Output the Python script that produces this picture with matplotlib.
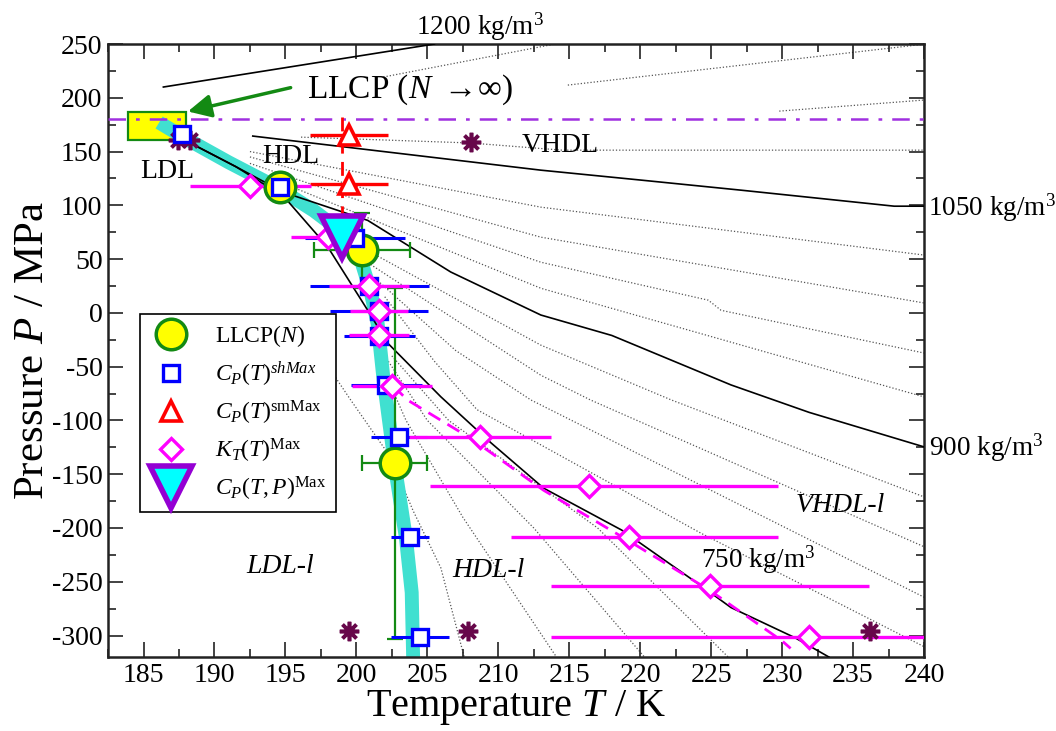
import numpy as np
import matplotlib.pyplot as plt
from matplotlib.patches import Rectangle, FancyArrowPatch
from matplotlib.ticker import MultipleLocator

plt.rcParams['font.family'] = ['Liberation Serif', 'DejaVu Serif']
plt.rcParams['mathtext.fontset'] = 'custom'
plt.rcParams['mathtext.rm'] = 'Liberation Serif'
plt.rcParams['mathtext.it'] = 'Liberation Serif:italic'
plt.rcParams['mathtext.bf'] = 'Liberation Serif:bold'
plt.rcParams['mathtext.fallback'] = 'stix'
plt.rcParams['axes.unicode_minus'] = False

# ---- data (T in K, P in MPa) ----
# LLCP estimates for finite N
llcp_T = [194.6, 200.4, 202.7]
llcp_P = [117.0, 58.0, -140.0]
llcp_Terr = [0.0, 3.4, 2.3]
llcp_Perr = [0.0, 35.0, 163.0]

# LLCP extrapolated to N -> inf (box) and its pressure
llcp_inf_T = (183.9, 188.0)
llcp_inf_P = (160.7, 186.7)
llcp_inf_line_P = 180.0

# C_P(T) shoulder maxima
cpsh_T = [187.7, 194.6, 199.9, 200.9, 201.6, 201.6, 202.1, 203.0, 203.8, 204.5]
cpsh_P = [166.0, 117.0, 70.0, 25.0, 1.5, -21.5, -67.0, -115.0, -208.0, -301.0]
cpsh_Terr = [0.0, 0.0, 3.5, 4.2, 3.45, 2.5, 2.5, 2.0, 1.35, 2.05]

# C_P(T) smooth maxima
cpsm_T = [199.5, 199.5]
cpsm_P = [165.3, 119.5]
cpsm_Terr = [2.75, 2.75]
cpsm_dash_T = 199.0
cpsm_dash_P = (182.0, 77.0)

# K_T(T) maxima
kt_T = [192.5, 198.0, 200.9, 201.6, 201.6, 202.5, 208.7, 216.4, 219.2, 224.9, 231.9]
kt_P = [117.8, 70.4, 24.8, 1.5, -21.0, -68.0, -115.0, -161.4, -208.0, -254.0, -301.0]
kt_Terr_lo = [4.2, 2.6, 2.8, 2.05, 2.1, 2.8, 5.0, 11.2, 8.3, 11.2, 18.2]
kt_Terr_hi = [4.3, 2.6, 2.8, 2.05, 2.1, 2.8, 5.0, 13.3, 10.5, 11.2, 18.2]
kt_line_T = [202.6, 203.6, 208.1, 213.2, 219.2, 224.9, 230.0, 230.6]
kt_line_P = [-68.0, -81.0, -117.0, -165.0, -212.0, -258.0, -305.0, -312.0]

# C_P(T,P) maximum
cptp_T = [199.0]
cptp_P = [70.4]

# state points
star_T = [187.4, 188.3, 208.1, 199.5, 207.9, 236.2]
star_P = [160.7, 160.7, 158.8, -296.0, -296.0, -296.0]

# Widom-like band
band_T = [186.1, 188.0, 191.0, 194.5, 197.0, 199.0, 200.3, 201.0, 201.5,
          201.9, 202.3, 202.8, 203.5, 203.9, 204.0]
band_P = [177.0, 162.0, 140.0, 116.0, 95.0, 75.0, 50.0, 20.0, -10.0,
          -60.0, -100.0, -150.0, -210.0, -260.0, -320.0]

# labelled isochores (solid)
iso_1200 = [(186.4, 210.0), (205.5, 250.0)]
iso_1050 = [(192.7, 164.4), (213.0, 132.7), (220.1, 123.4), (227.1, 114.1),
            (237.9, 99.2), (240.1, 99.2)]
iso_900 = [(188.0, 160.0), (191.5, 136.0), (194.9, 112.0), (200.8, 86.0),
           (206.65, 38.0), (213.0, -2.0), (218.0, -21.0), (226.4, -67.0),
           (231.9, -92.5), (240.1, -125.0)]
iso_750 = [(188.0, 160.0), (191.5, 136.0), (194.9, 108.0), (198.0, 61.0),
           (200.8, 2.4), (202.2, -28.0), (205.95, -78.0), (209.5, -121.0),
           (213.2, -163.0), (218.7, -202.0), (224.1, -252.0), (226.4, -274.0),
           (230.9, -302.0), (233.3, -320.0)]

# intermediate isochores (dotted)
dot_1 = [(201.9, 219.3), (214.0, 250.0)]
dot_2 = [(214.9, 211.8), (239.8, 249.5)]
dot_3 = [(229.8, 187.6), (240.1, 198.0)]
dot_4 = [(196.1, 163.4), (208.0, 158.0), (214.5, 151.3), (240.1, 151.3)]
dot_5 = [(192.5, 150.0), (213.0, 98.3), (240.1, 53.6)]
dot_6 = [(192.5, 145.0), (213.0, 70.4), (240.1, 9.0)]
dot_7 = [(192.5, 139.0), (213.0, 47.1), (224.8, 11.8), (225.7, 2.4), (240.1, -37.6)]
dot_8 = [(194.0, 125.0), (213.0, 22.9), (240.1, -78.5)]
dot_9 = [(200.5, 60.0), (213.0, -30.0), (222.2, -81.0), (240.1, -171.6)]
dot_10 = [(201.0, 45.0), (213.0, -58.0), (216.5, -81.0), (240.1, -218.0)]
dot_11 = [(201.5, 30.0), (207.0, -35.0), (212.3, -81.0), (240.1, -265.0)]
dot_12 = [(202.0, 15.0), (205.5, -45.0), (208.5, -90.0), (224.3, -205.0), (240.1, -311.0)]
dot_13 = [(202.5, -40.0), (206.5, -100.0), (217.0, -200.0), (226.2, -320.0)]
dot_14 = [(202.0, -40.0), (205.0, -100.0), (212.5, -200.0), (220.3, -320.0)]
dot_15 = [(201.5, -40.0), (203.5, -100.0), (207.5, -190.0), (214.1, -320.0)]
dot_16 = [(197.0, -30.0), (199.6, -81.0), (202.4, -134.0), (204.0, -184.0),
          (205.95, -237.0), (207.6, -320.0)]

GREEN = '#138a13'
MAGENTA = '#ff00ff'
BLUE = '#0000ff'
RED = '#ff0000'
PURPLE = '#9400d3'
MAROON = '#67074a'

fig, ax = plt.subplots(figsize=(10.56, 7.31), dpi=100)
fig.subplots_adjust(left=0.1023, right=0.875, bottom=0.1012, top=0.9398)

# isochores
for iso in [dot_1, dot_2, dot_3, dot_4, dot_5, dot_6, dot_7, dot_8, dot_9,
            dot_10, dot_11, dot_12, dot_13, dot_14, dot_15, dot_16]:
    t, p = np.array(iso).T
    ax.plot(t, p, color='#555555', lw=0.9, ls=(0, (1, 1.6)), zorder=1)

ax.add_patch(Rectangle((llcp_inf_T[0], llcp_inf_P[0]),
                       llcp_inf_T[1] - llcp_inf_T[0], llcp_inf_P[1] - llcp_inf_P[0],
                       facecolor='#ffff00', edgecolor=GREEN, lw=1.6, zorder=1.5))

ax.plot(band_T, band_P, color='#40e0d0', lw=10, solid_capstyle='butt', zorder=2)

for iso in [iso_1200, iso_1050, iso_900, iso_750]:
    t, p = np.array(iso).T
    ax.plot(t, p, color='black', lw=1.2, zorder=3)

ax.axhline(llcp_inf_line_P, color='#a030e0', lw=1.8, ls=(0, (7, 4, 1.5, 4)), zorder=3.5)
ax.plot([cpsm_dash_T, cpsm_dash_T], cpsm_dash_P, color=RED, lw=2, ls=(0, (5, 3)), zorder=4)
ax.plot(kt_line_T, kt_line_P, color=MAGENTA, lw=2, ls=(0, (5, 3)), zorder=4)

# error bars
ax.errorbar(llcp_T[1:], llcp_P[1:], xerr=llcp_Terr[1:], yerr=llcp_Perr[1:], fmt='none',
            ecolor=GREEN, elinewidth=1.6, capsize=6, capthick=1.6, zorder=5)
ax.errorbar(cpsh_T, cpsh_P, xerr=cpsh_Terr, fmt='none', ecolor=BLUE,
            elinewidth=2.2, zorder=5.2)
ax.errorbar(cpsm_T, cpsm_P, xerr=cpsm_Terr, fmt='none', ecolor=RED,
            elinewidth=2.4, zorder=5.4)
ax.errorbar(kt_T, kt_P, xerr=[kt_Terr_lo, kt_Terr_hi], fmt='none', ecolor=MAGENTA,
            elinewidth=2.4, zorder=5.6)

ax.plot(star_T, star_P, ls='none', marker=(8, 2, 0), ms=14, mew=2.6,
        color=MAROON, zorder=6)

h1, = ax.plot(llcp_T, llcp_P, ls='none', marker='o', ms=22, mfc='#ffff00',
              mec=GREEN, mew=2.5, zorder=7, label='LLCP($N$)')
h2, = ax.plot(cpsh_T, cpsh_P, ls='none', marker='s', ms=12, mfc='white',
              mec=BLUE, mew=2.4, zorder=8, label=r'$C_P(T)^{shMax}$')
h3, = ax.plot(cpsm_T, cpsm_P, ls='none', marker='^', ms=15, mfc='white',
              mec=RED, mew=2.6, zorder=8, label=r'$C_P(T)^{\mathrm{smMax}}$')
h4, = ax.plot(kt_T, kt_P, ls='none', marker='D', ms=11, mfc='white',
              mec=MAGENTA, mew=2.4, zorder=9, label=r'$K_T(T)^{\mathrm{Max}}$')
h5, = ax.plot(cptp_T, cptp_P, ls='none', marker='v', ms=30, mfc='#00ffff',
              mec=PURPLE, mew=4, zorder=10, label=r'$C_P(T,P)^{\mathrm{Max}}$')

# arrow pointing to the extrapolated LLCP
ax.add_patch(FancyArrowPatch((195.56, 210.0), (187.94, 186.7),
                             arrowstyle='-|>,head_length=0.7,head_width=0.35',
                             mutation_scale=20, color=GREEN, lw=2.5, zorder=6))

ax.text(196.55, 199.7, r'LLCP ($N$ $\rightarrow\!\infty$)', fontsize=24,
        ha='left', va='baseline')
ax.text(186.67, 125.3, 'LDL', fontsize=20, ha='center', va='baseline')
ax.text(195.35, 139.2, 'HDL', fontsize=20, ha='center', va='baseline')
ax.text(214.4, 149.5, 'VHDL', fontsize=20, ha='center', va='baseline')
ax.text(194.6, -242.3, 'LDL-l', fontsize=20, style='italic', ha='center', va='baseline')
ax.text(209.3, -246.0, 'HDL-l', fontsize=20, style='italic', ha='center', va='baseline')
ax.text(234.1, -185.5, 'VHDL-l', fontsize=20, style='italic', ha='center', va='baseline')
ax.text(224.3, -236.7, '750 kg/m$^3$', fontsize=19.5, ha='left', va='baseline')
ax.text(204.2, 258.4, '1200 kg/m$^3$', fontsize=19.5, ha='left', va='baseline', clip_on=False)
ax.text(240.25, 90.9, '1050 kg/m$^3$', fontsize=19.5, ha='left', va='baseline', clip_on=False)
ax.text(240.35, -132.5, '900 kg/m$^3$', fontsize=19.5, ha='left', va='baseline', clip_on=False)

ax.set_xlim(182.5, 240)
ax.set_ylim(-320, 250)
ax.xaxis.set_major_locator(MultipleLocator(5))
ax.xaxis.set_minor_locator(MultipleLocator(2.5))
ax.yaxis.set_major_locator(MultipleLocator(50))
ax.yaxis.set_minor_locator(MultipleLocator(25))
ax.tick_params(which='both', direction='in', top=True, right=True, width=1.2,
               colors='#222222', labelsize=20, labelcolor='black')
ax.tick_params(which='major', length=11, pad=4)
ax.tick_params(which='minor', length=5.5)
for spine in ax.spines.values():
    spine.set_linewidth(1.8)
    spine.set_color('#222222')

ax.set_xlabel('Temperature $T$ / K', fontsize=29, labelpad=0)
ax.set_ylabel('Pressure $P$ / MPa', fontsize=31, labelpad=0)

leg = ax.legend(handles=[h1, h2, h3, h4, h5], loc='upper left',
                bbox_to_anchor=(0.039, 0.5596), borderaxespad=0, fontsize=17,
                frameon=True, fancybox=False, edgecolor='black', framealpha=1,
                handlelength=1.8, handletextpad=1.0, borderpad=0.4,
                labelspacing=0.42, numpoints=1)
leg.get_frame().set_linewidth(1.2)
leg.set_zorder(20)

fig.savefig('out.png', dpi=100)
